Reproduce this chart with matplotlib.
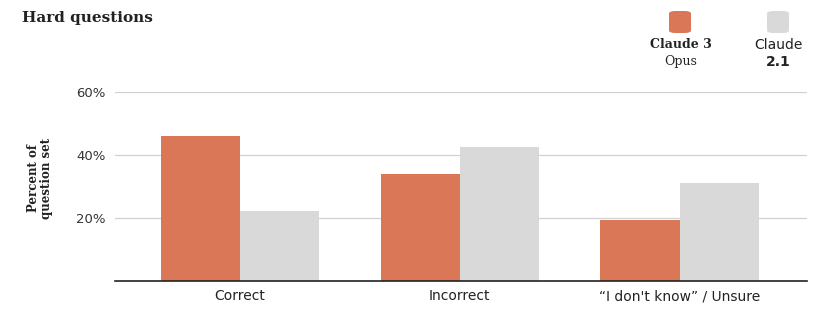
import numpy as np
import matplotlib.pyplot as plt
from matplotlib.patches import FancyBboxPatch

# Data
categories = ["Correct", "Incorrect", "\u201cI don't know\u201d / Unsure"]
opus_values = [46.0, 34.0, 19.4]
claude21_values = [22.3, 42.4, 31.2]
yticks = [20, 40, 60]
ytick_labels = ["20%", "40%", "60%"]

ORANGE = "#D97757"
GRAY = "#D9D9D9"
SERIF = ["DejaVu Serif"]
SANS = ["DejaVu Sans"]

fig = plt.figure(figsize=(8.24, 3.14), dpi=100)
ax = fig.add_axes([115 / 824, 33 / 314, (807 - 115) / 824, (281 - 92) / 314])

x = np.arange(len(categories))
width = 0.36
ax.bar(x - width / 2, opus_values, width, color=ORANGE, zorder=3)
ax.bar(x + width / 2, claude21_values, width, color=GRAY, zorder=3)

ax.set_xlim(-0.568, 2.58)
ax.set_ylim(0, 60)
ax.set_yticks(yticks)
ax.set_yticklabels(ytick_labels, family=SANS, fontsize=9.5, color="#333333")
ax.set_xticks(x)
ax.set_xticklabels(categories, family=SANS, fontsize=10, color="#222222")
ax.tick_params(length=0)
ax.tick_params(axis="y", pad=7)
ax.tick_params(axis="x", pad=6)
ax.grid(axis="y", color="#d0d0d0", linewidth=0.9, zorder=0)
for side in ["top", "right", "left"]:
    ax.spines[side].set_visible(False)
ax.spines["bottom"].set_color("#222222")
ax.spines["bottom"].set_linewidth(1.2)
ax.spines["bottom"].set_zorder(4)

# Title and y label
fig.text(22 / 824, 1 - 18 / 314, "Hard questions", family=SERIF, fontweight="bold",
         fontsize=11, color="#222222", va="center", ha="left")
fig.text(40 / 824, 1 - 178 / 314, "Percent of\nquestion set", family=SERIF,
         fontweight="semibold", fontsize=8.5, color="#222222", rotation=90,
         va="center", ha="center", linespacing=1.0)

# Legend with rounded swatches
for cx, col in [(680, ORANGE), (778, GRAY)]:
    sw = FancyBboxPatch(((cx - 11) / 824, 1 - 33 / 314), 22 / 824, 22 / 314,
                        boxstyle="round,pad=0,rounding_size=0.008",
                        transform=fig.transFigure, facecolor=col, edgecolor="none")
    fig.patches.append(sw)
fig.text(681 / 824, 1 - 45 / 314, "Claude 3", family=SERIF, fontweight="bold",
         fontsize=9, color="#222222", ha="center", va="center")
fig.text(681 / 824, 1 - 62 / 314, "Opus", family=SERIF, fontsize=9,
         color="#222222", ha="center", va="center")
fig.text(778 / 824, 1 - 45 / 314, "Claude", family=SANS, fontsize=10,
         color="#222222", ha="center", va="center")
fig.text(778 / 824, 1 - 62 / 314, "2.1", family=SANS, fontweight="bold",
         fontsize=10, color="#222222", ha="center", va="center")

fig.savefig("out.png", dpi=100, facecolor="white")
